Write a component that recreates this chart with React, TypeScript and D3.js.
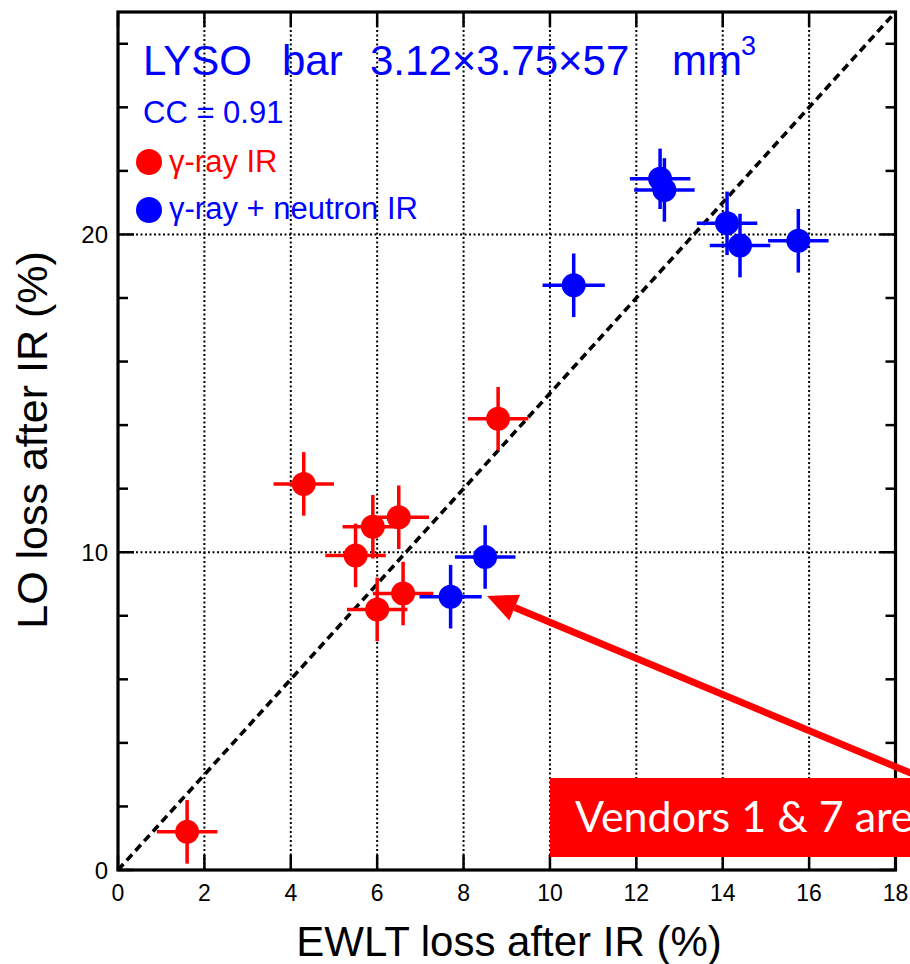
import React from "react";
import * as d3 from "d3";

const redX = [1.6, 4.3, 5.5, 5.9, 6.5, 6.0, 6.6, 8.8];
const redY = [1.2, 12.15, 9.9, 10.8, 11.1, 8.2, 8.7, 14.2];
const redXErr = [0.7, 0.7, 0.7, 0.7, 0.7, 0.7, 0.7, 0.7];
const redYErr = [1.0, 1.0, 1.0, 1.0, 1.0, 1.0, 1.0, 1.0];

const blueX = [7.7, 8.5, 10.55, 12.55, 12.65, 14.1, 14.4, 15.75];
const blueY = [8.6, 9.85, 18.4, 21.75, 21.4, 20.35, 19.65, 19.8];
const blueXErr = [0.72, 0.7, 0.72, 0.7, 0.7, 0.7, 0.7, 0.7];
const blueYErr = [1.0, 1.0, 1.0, 0.95, 1.0, 1.0, 1.0, 1.0];

const xTicks = [0, 2, 4, 6, 8, 10, 12, 14, 16, 18];
const yTickLabels = [0, 10, 20];
const yMinorTicks = [2, 4, 6, 8, 12, 14, 16, 18, 22, 24, 26];
const xGrid = [2, 4, 6, 8, 10, 12, 14, 16];
const yGrid = [10, 20];
const diag = [0, 18];
const diagSlope = 1.5;

const RED = "#ff0000";
const BLUE = "#0000ff";
const FONT = "'Liberation Sans', Arial, sans-serif";

export default function App() {
  const left = 118, right = 895.5, top = 12, bottom = 870;
  const x = d3.scaleLinear().domain([0, 18]).range([left, right]);
  const y = d3.scaleLinear().domain([0, 27]).range([bottom, top]);

  const series = (xs: number[], ys: number[], xe: number[], ye: number[], color: string) =>
    xs.map((xv, i) => (
      <g key={color + i}>
        <line x1={x(xv - xe[i])} x2={x(xv + xe[i])} y1={y(ys[i])} y2={y(ys[i])} stroke={color} strokeWidth={3.5} />
        <line x1={x(xv)} x2={x(xv)} y1={y(ys[i] - ye[i])} y2={y(ys[i] + ye[i])} stroke={color} strokeWidth={3.5} />
        <circle cx={x(xv)} cy={y(ys[i])} r={12} fill={color} />
      </g>
    ));

  const line = d3.line<number>().x((d) => x(d)).y((d) => y(d * diagSlope));

  // arrow
  const tipX = 487, tipY = 596;
  const endX = 920, endY = 777;
  const ang = Math.atan2(endY - tipY, endX - tipX);
  const ah = 30, aw = 14;
  const bx = tipX + ah * Math.cos(ang), by = tipY + ah * Math.sin(ang);
  const p1 = [bx - aw * Math.sin(ang), by + aw * Math.cos(ang)];
  const p2 = [bx + aw * Math.sin(ang), by - aw * Math.cos(ang)];

  return (
    <svg width={910} height={964} style={{ position: "absolute", left: 0, top: 0, background: "#fff" }} fontFamily={FONT}>
      <defs>
        <clipPath id="page"><rect x={0} y={0} width={910} height={964} /></clipPath>
      </defs>
      <rect x={0} y={0} width={910} height={964} fill="#fff" />
      {/* grid */}
      {xGrid.map((g) => (
        <line key={"gx" + g} x1={x(g)} x2={x(g)} y1={top} y2={bottom} stroke="#000" strokeWidth={2} strokeDasharray="2,2.5" />
      ))}
      {yGrid.map((g) => (
        <line key={"gy" + g} x1={left} x2={right} y1={y(g)} y2={y(g)} stroke="#000" strokeWidth={2} strokeDasharray="2,2.5" />
      ))}
      {/* ticks */}
      {xTicks.map((t) => (
        <g key={"xt" + t}>
          <line x1={x(t)} x2={x(t)} y1={bottom} y2={bottom - 15} stroke="#000" strokeWidth={2.5} />
          <line x1={x(t)} x2={x(t)} y1={top} y2={top + 15} stroke="#000" strokeWidth={2.5} />
          <text x={x(t)} y={bottom + 31} textAnchor="middle" fontSize={23} fill="#000">{t}</text>
        </g>
      ))}
      {yMinorTicks.map((t) => (
        <g key={"yt" + t}>
          <line x1={left} x2={left + 10} y1={y(t)} y2={y(t)} stroke="#000" strokeWidth={2.5} />
          <line x1={right} x2={right - 10} y1={y(t)} y2={y(t)} stroke="#000" strokeWidth={2.5} />
        </g>
      ))}
      {yTickLabels.map((t) => (
        <g key={"yl" + t}>
          <line x1={left} x2={left + 16} y1={y(t)} y2={y(t)} stroke="#000" strokeWidth={2.5} />
          <line x1={right} x2={right - 16} y1={y(t)} y2={y(t)} stroke="#000" strokeWidth={2.5} />
          <text x={left - 10} y={y(t) + 9} textAnchor="end" fontSize={24} fill="#000">{t}</text>
        </g>
      ))}
      {/* diagonal */}
      <path d={line(diag) || ""} stroke="#000" strokeWidth={3.6} strokeDasharray="8,5" fill="none" />
      {/* data */}
      {series(redX, redY, redXErr, redYErr, RED)}
      {series(blueX, blueY, blueXErr, blueYErr, BLUE)}
      {/* frame */}
      <rect x={left} y={top} width={right - left} height={bottom - top} fill="none" stroke="#000" strokeWidth={3.2} />
      {/* legend / title */}
      <text x={143} y={75} fontSize={42} fill={BLUE}>LYSO</text>
      <text x={282} y={75} fontSize={42} fill={BLUE}>bar</text>
      <text x={370} y={75} fontSize={42} fill={BLUE}>3.12×3.75×57</text>
      <text x={672} y={75} fontSize={42} fill={BLUE}>mm</text>
      <text x={741} y={55} fontSize={27} fill={BLUE}>3</text>
      <text x={143} y={123} fontSize={31} fill={BLUE}>CC = 0.91</text>
      <circle cx={149} cy={162} r={13} fill={RED} />
      <text x={169} y={172} fontSize={31} fill={RED}>γ-ray IR</text>
      <circle cx={149} cy={210} r={13} fill={BLUE} />
      <text x={169} y={219} fontSize={31} fill={BLUE}>γ-ray + neutron IR</text>
      {/* axis titles */}
      <text x={509} y={956} textAnchor="middle" fontSize={42} fill="#000">EWLT loss after IR (%)</text>
      <text transform={`translate(47,440) rotate(-90)`} textAnchor="middle" fontSize={43} fill="#000">LO loss after IR (%)</text>
      {/* annotation */}
      <g clipPath="url(#page)">
        <line x1={endX} y1={endY} x2={bx} y2={by} stroke={RED} strokeWidth={7} />
        <polygon points={`${tipX},${tipY} ${p1[0]},${p1[1]} ${p2[0]},${p2[1]}`} fill={RED} />
        <rect x={550} y={778} width={370} height={79} fill={RED} />
        <text x={575} y={832} fontSize={43} fill="#fff" fontFamily="Lato, 'Open Sans', sans-serif">Vendors 1 &amp; 7 are</text>
      </g>
    </svg>
  );
}
